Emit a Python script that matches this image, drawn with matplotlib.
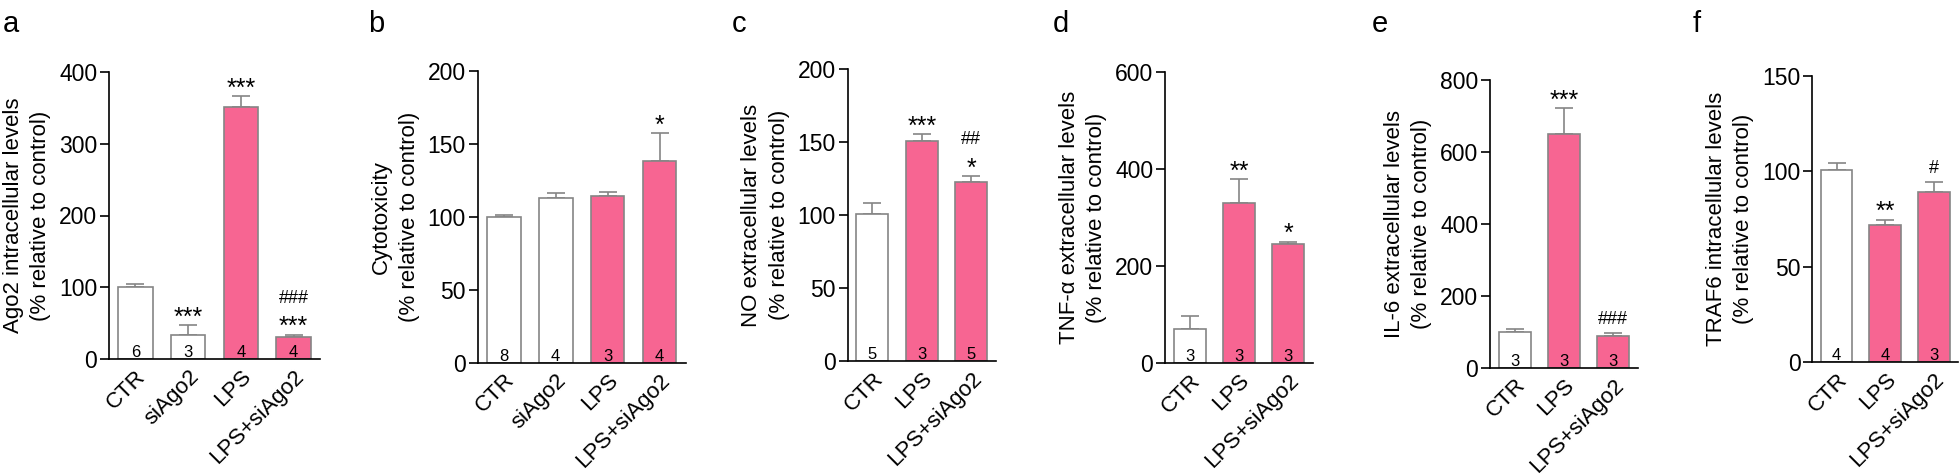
import matplotlib
matplotlib.use('Agg')
import matplotlib.pyplot as plt

plt.rcParams['font.family'] = ['Liberation Sans', 'DejaVu Sans']

# ---- data ----
labels_4 = ['CTR', 'siAgo2', 'LPS', 'LPS+siAgo2']
labels_3 = ['CTR', 'LPS', 'LPS+siAgo2']

ago2_mean = [100, 34, 351, 30]
ago2_sem = [5, 13, 15, 3.5]
ago2_n = [6, 3, 4, 4]
ago2_stars = ['', '***', '***', '***']
ago2_hash = ['', '', '', '###']

cyto_mean = [100, 112.8, 114.4, 138]
cyto_sem = [1, 3.4, 2.5, 19]
cyto_n = [8, 4, 3, 4]
cyto_stars = ['', '', '', '*']
cyto_hash = ['', '', '', '']

no_mean = [101, 150.7, 122.8]
no_sem = [7, 4.6, 3.7]
no_n = [5, 3, 5]
no_stars = ['', '***', '*']
no_hash = ['', '', '##']

tnf_mean = [70, 329, 245]
tnf_sem = [28, 50, 4.6]
tnf_n = [3, 3, 3]
tnf_stars = ['', '**', '*']
tnf_hash = ['', '', '']

il6_mean = [100, 650, 89]
il6_sem = [7.7, 72, 6.6]
il6_n = [3, 3, 3]
il6_stars = ['', '***', '']
il6_hash = ['', '', '###']

traf6_mean = [101, 72, 89]
traf6_sem = [3.5, 2.6, 5.3]
traf6_n = [4, 4, 3]
traf6_stars = ['', '**', '']
traf6_hash = ['', '', '#']

W, H = 1960, 476
PINK = '#F76592'
EDGE = '#858585'

fig = plt.figure(figsize=(W / 100, H / 100), dpi=100)


def add_panel(box, letter, letter_x, labels, means, sems, ns, fills, stars, hashes, ylabel, yticks):
    # box = (left, right, top, bottom) in figure pixels
    left, right, top, bottom = box
    ax = fig.add_axes([left / W, 1 - bottom / H, (right - left) / W, (bottom - top) / H])
    x = list(range(len(labels)))
    ax.bar(x, means, width=0.65, color=fills, edgecolor=EDGE, linewidth=1.2, zorder=2)
    ax.errorbar(x, means, yerr=[[0] * len(x), sems], fmt='none', ecolor=EDGE,
                elinewidth=1.2, capsize=6.5, capthick=1.2, zorder=1)
    ax.set_xlim(-0.5, len(x) - 0.5)
    ax.set_ylim(0, yticks[-1])
    ax.set_yticks(yticks)
    for s in ['top', 'right']:
        ax.spines[s].set_visible(False)
    for s in ['left', 'bottom']:
        ax.spines[s].set_linewidth(1.2)
    ax.tick_params(axis='y', length=6.5, width=1.2, labelsize=16.5, pad=2)
    ax.tick_params(axis='x', length=0, labelsize=16, pad=5)
    ax.set_xticks(x)
    ax.set_xticklabels(labels, rotation=45, ha='right', va='top', rotation_mode='anchor')
    ax.set_ylabel(ylabel, fontsize=16, linespacing=1.4)
    ax.yaxis.set_label_coords(-58 / (right - left), 0.5)

    for xi, m, e, n, st, hs in zip(x, means, sems, ns, stars, hashes):
        ax.annotate(str(n), (xi, 0), xytext=(0, 1.5), textcoords='offset points',
                    ha='center', va='baseline', fontsize=12)
        if st:
            ax.annotate(st, (xi, m + e), xytext=(0, 0.5), textcoords='offset points',
                        ha='center', va='baseline', fontsize=18)
        if hs:
            off = 23 if st else 6.5
            ax.annotate(hs, (xi, m + e), xytext=(0, off), textcoords='offset points',
                        ha='center', va='baseline', fontsize=13)

    fig.text(letter_x / W, 1 - 31.7 / H, letter, fontsize=21, ha='left', va='baseline')
    return ax


w4 = ['white', 'white', PINK, PINK]
w3 = ['white', PINK, PINK]

add_panel((109, 320, 72, 359), 'a', 3, labels_4, ago2_mean, ago2_sem, ago2_n, w4,
          ago2_stars, ago2_hash, 'Ago2 intracellular levels\n(% relative to control)',
          [0, 100, 200, 300, 400])
add_panel((477.7, 685.5, 70.7, 362.7), 'b', 368, labels_4, cyto_mean, cyto_sem, cyto_n, w4,
          cyto_stars, cyto_hash, 'Cytotoxicity\n(% relative to control)',
          [0, 50, 100, 150, 200])
add_panel((847.7, 996, 69, 361), 'c', 732, labels_3, no_mean, no_sem, no_n, w3,
          no_stars, no_hash, 'NO extracellular levels\n(% relative to control)',
          [0, 50, 100, 150, 200])
add_panel((1165, 1313, 71.7, 363.3), 'd', 1053, labels_3, tnf_mean, tnf_sem, tnf_n, w3,
          tnf_stars, tnf_hash, 'TNF-α extracellular levels\n(% relative to control)',
          [0, 200, 400, 600])
add_panel((1490, 1638, 80.3, 367.7), 'e', 1372, labels_3, il6_mean, il6_sem, il6_n, w3,
          il6_stars, il6_hash, 'IL-6 extracellular levels\n(% relative to control)',
          [0, 200, 400, 600, 800])
add_panel((1812.3, 1958, 76, 362.3), 'f', 1693, labels_3, traf6_mean, traf6_sem, traf6_n, w3,
          traf6_stars, traf6_hash, 'TRAF6 intracellular levels\n(% relative to control)',
          [0, 50, 100, 150])

fig.savefig('out.png', dpi=100)
